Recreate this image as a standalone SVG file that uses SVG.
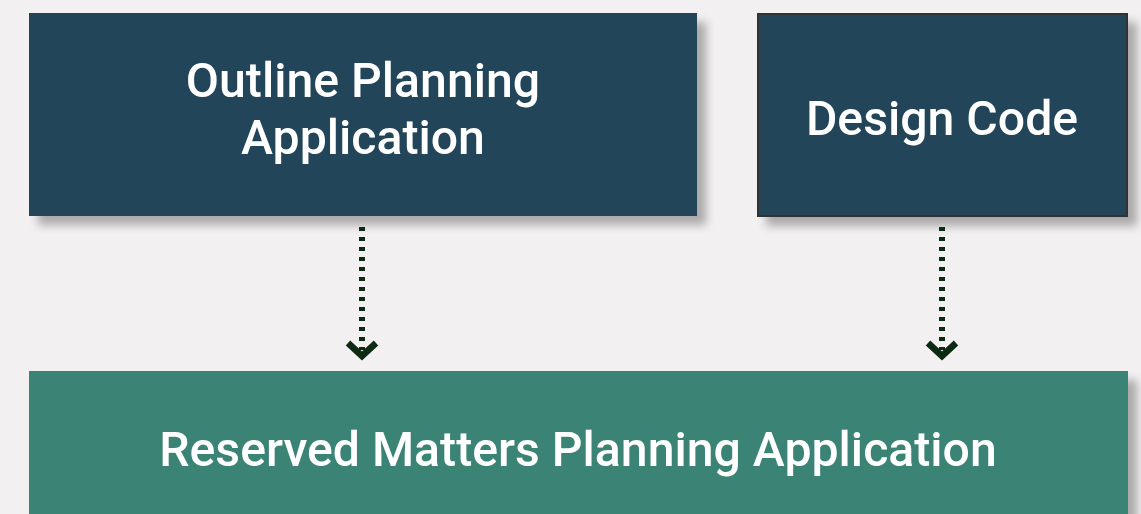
<svg xmlns="http://www.w3.org/2000/svg" width="1141" height="514" viewBox="0 0 1141 514">
  <style>
    .label { font-family: Roboto, "Liberation Sans", sans-serif; font-weight: 500; font-size: 48.2px; fill: #ffffff; text-anchor: middle; }
    .dark { fill: #23455a; }
    .green { fill: #3a8474; }
    .flow { stroke: #0d2a12; stroke-width: 6; stroke-dasharray: 4 6; fill: none; }
    .head { stroke: #0d2a12; stroke-width: 6.5; fill: none; }
  </style>
  <defs>
    <filter id="drop" x="-10%" y="-20%" width="130%" height="150%">
      <feGaussianBlur in="SourceAlpha" stdDeviation="5"/>
      <feOffset dx="9" dy="9" result="b"/>
      <feComponentTransfer><feFuncA type="linear" slope="0.3"/></feComponentTransfer>
      <feMerge><feMergeNode/><feMergeNode in="SourceGraphic"/></feMerge>
    </filter>
  </defs>
  <rect width="1141" height="514" fill="#f2f0f0"/>

  <g id="outline-planning">
    <rect class="dark" x="29" y="13" width="668" height="203" filter="url(#drop)"/>
    <text class="label" x="363" y="97">Outline Planning</text>
    <text class="label" x="363" y="154">Application</text>
  </g>

  <g id="design-code">
    <rect class="dark" x="758" y="14" width="369" height="202" stroke="#333" stroke-width="2" filter="url(#drop)"/>
    <text class="label" x="942" y="135">Design Code</text>
  </g>

  <g id="reserved-matters">
    <rect class="green" x="29" y="371" width="1099" height="160" filter="url(#drop)"/>
    <text class="label" x="578" y="466">Reserved Matters Planning Application</text>
  </g>

  <g id="connectors">
    <path class="flow" d="M362 227 V350"/>
    <path class="flow" d="M942 227 V350"/>
    <path class="head" d="M348 343 L362 356 L376 343"/>
    <path class="head" d="M928 343 L942 356 L956 343"/>
  </g>
</svg>
